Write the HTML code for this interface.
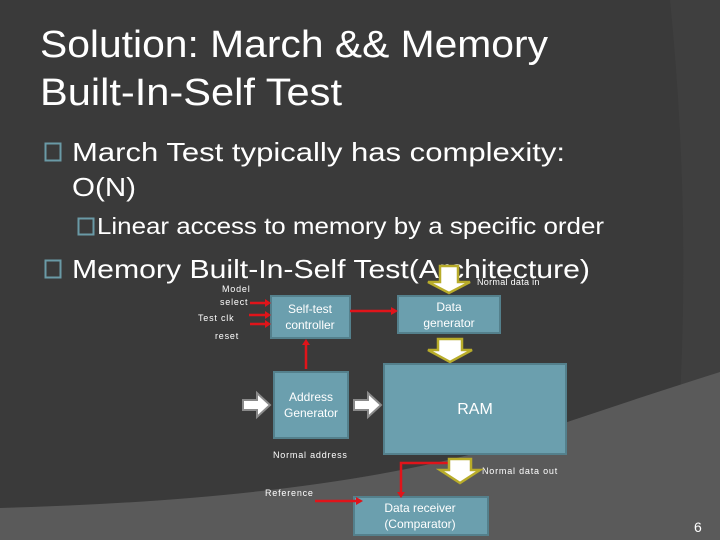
<!DOCTYPE html>
<html><head><meta charset="utf-8"><style>
body{margin:0;background:#3a3a3a;}
svg{display:block;}
text{font-family:"Liberation Sans",sans-serif;fill:#fff;}
</style></head><body>
<svg width="720" height="540" viewBox="0 0 720 540">
<rect width="720" height="540" fill="#3a3a3a"/>
<path d="M670,0 L720,0 L720,380 Q700,390 680,398 Q690,200 670,0Z" fill="#3f3f3f"/>
<path d="M0,508 Q300,500 480,452 Q600,410 720,372 L720,540 L0,540Z" fill="#5a5a5a"/>
<text x="40" y="57" font-size="38" textLength="508" lengthAdjust="spacingAndGlyphs">Solution: March &amp;&amp; Memory</text>
<text x="40" y="105" font-size="38" textLength="302" lengthAdjust="spacingAndGlyphs">Built-In-Self Test</text>
<rect x="45.5" y="143.5" width="15" height="17" fill="none" stroke="#6a9aa6" stroke-width="2"/>
<text x="72" y="161" font-size="26" textLength="493" lengthAdjust="spacingAndGlyphs">March Test typically has complexity:</text>
<text x="72" y="196" font-size="26" textLength="64" lengthAdjust="spacingAndGlyphs">O(N)</text>
<rect x="78.5" y="218.5" width="15" height="16" fill="none" stroke="#6a9aa6" stroke-width="2"/>
<text x="97" y="234" font-size="23" textLength="507" lengthAdjust="spacingAndGlyphs">Linear access to memory by a specific order</text>
<rect x="45.5" y="260.5" width="15" height="17" fill="none" stroke="#6a9aa6" stroke-width="2"/>
<text x="72" y="278" font-size="26" textLength="518" lengthAdjust="spacingAndGlyphs">Memory Built-In-Self Test(Architecture)</text>
<g fill="#6b9fae" stroke="#54808c" stroke-width="2">
<rect x="271" y="296" width="79" height="42"/>
<rect x="398" y="296" width="102" height="37"/>
<rect x="274" y="372" width="74" height="66"/>
<rect x="384" y="364" width="182" height="90"/>
<rect x="354" y="497" width="134" height="38"/>
</g>
<g font-size="12" text-anchor="middle">
<text x="310" y="313">Self-test</text><text x="310" y="329">controller</text>
<text x="449" y="311">Data</text><text x="449" y="327">generator</text>
<text x="311" y="401">Address</text><text x="311" y="417">Generator</text>
<text x="475" y="414" font-size="16">RAM</text>
<text x="420" y="512">Data receiver</text><text x="420" y="528">(Comparator)</text>
</g>
<g font-size="9" letter-spacing="0.8">
<text x="222" y="292">Model</text><text x="220" y="305">select</text>
<text x="198" y="321">Test clk</text><text x="215" y="339">reset</text>
<text x="477" y="285" letter-spacing="0.3">Normal data in</text>
<text x="273" y="458">Normal address</text>
<text x="482" y="474">Normal data out</text>
<text x="265" y="496">Reference</text>
</g>
<text x="694" y="532" font-size="14">6</text>
<g stroke="#e0141a" stroke-width="2.5" fill="none">
<path d="M250,303H266M249,315H266M250,324H266"/>
<path d="M350,311H392"/>
<path d="M306,369V344"/>
<path d="M450,463H401V493"/>
<path d="M315,501H357"/>
</g>
<g fill="#e0141a">
<path d="M271,303l-6,-4v8z M271,315l-6,-4v8z M271,324l-6,-4v8z"/>
<path d="M398,311l-7,-4v8z"/>
<path d="M306,339l-4,6h8z"/>
<path d="M401,498l-4,-6h8z"/>
<path d="M363,501l-7,-4v8z"/>
</g>
<g fill="#fff" stroke="#b8ac2a" stroke-width="2.5" stroke-linejoin="miter">
<path d="M440,266h18v16h12l-21,11l-21,-11h12z"/>
<path d="M438,339h24v11h10l-22,12l-22,-12h10z"/>
<path d="M449,459h22v11h9l-20,13l-20,-13h9z"/>
</g>
<g fill="#fff" stroke="#8a8a8a" stroke-width="2">
<path d="M243,400h14v-7l13,12l-13,12v-7h-14z"/>
<path d="M354,400h14v-7l13,12l-13,12v-7h-14z"/>
</g>
</svg>
</body></html>
